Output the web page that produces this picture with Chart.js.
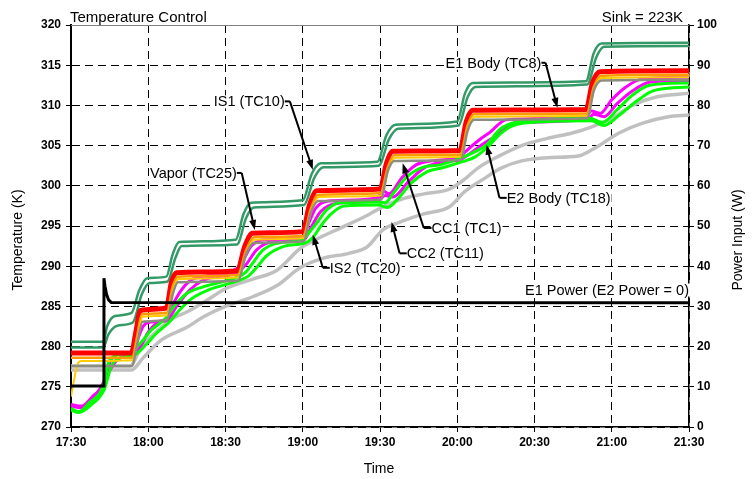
<!DOCTYPE html>
<html>
<head>
<meta charset="utf-8">
<script src="https://cdn.jsdelivr.net/npm/chart.js@4.4.0/dist/chart.umd.min.js"></script>
<style>
  html, body { margin: 0; padding: 0; background: #fff; }
  canvas { display: block; }
</style>
</head>
<body>
<canvas id="chart" width="755" height="479"></canvas>
<script>
// x values are minutes after 17:30
const timeLabels = ['17:30', '18:00', '18:30', '19:00', '19:30', '20:00', '20:30', '21:00', '21:30'];

// Power input (W), right axis
const e1Power = [[0, 10.2], [12.7, 10.2], [12.8, 37], [13.2, 35], [13.8, 33], [14.6, 31.6], [15.6, 31], [240, 30.9]];

// Temperatures (K)
const e1Body = [[0, 279.2], [23.5, 279.2], [25, 281.5], [27, 284.5], [37, 284.8], [39, 288], [41, 289.2], [64.5, 289.4], [67.5, 292.5], [70.5, 294.1], [90, 294.3], [92.5, 297.5], [95.5, 299.4], [120, 299.6], [122.5, 302.8], [125, 304.3], [151, 304.4], [153.5, 308], [156, 309.4], [200, 309.5], [202.5, 312.8], [205.5, 314.2], [240, 314.3]];
const orangeTc = [[0, 278.6], [23.8, 278.6], [25.5, 281], [27.5, 284], [37.2, 284.2], [39.5, 287.5], [41.5, 288.7], [64.7, 288.9], [68, 292], [71, 293.6], [90.2, 293.8], [93, 297], [96, 298.9], [120.2, 299.1], [123, 302.3], [125.5, 303.8], [151.2, 303.9], [154, 307.5], [156.5, 308.9], [200.3, 309], [203, 312.3], [206, 313.7], [240, 313.8]];
const vapor = [[0, 273.8], [1, 275.5], [2.5, 277.8], [4, 278.2], [23.9, 278.3], [25.8, 280.8], [27.8, 283.7], [37.4, 283.9], [39.8, 287.2], [41.8, 288.4], [64.9, 288.6], [68.2, 291.7], [71.2, 293.3], [90.4, 293.5], [93.2, 296.7], [96.2, 298.6], [120.4, 298.8], [123.2, 302], [125.8, 303.5], [151.4, 303.6], [154.2, 307.2], [156.8, 308.6], [200.5, 308.7], [203.2, 312], [206.2, 313.4], [240, 313.5]];
const cc1 = [[0, 277.6], [23.8, 277.6], [25.5, 280], [27.8, 283.1], [37.3, 283.3], [39.5, 286.5], [41.5, 288], [64.8, 288.2], [68, 291.5], [71, 292.9], [90.3, 293.1], [93, 296.5], [96, 298.1], [120.3, 298.3], [123, 301.8], [125.5, 303.1], [151.3, 303.2], [154, 306.8], [156.5, 308.2], [200.5, 308.4], [203, 311.8], [206, 313.1], [240, 313.2]];
const is2 = [[0, 272.6], [4, 272.4], [9, 273.8], [12.5, 275.5], [15, 278], [18, 279], [23.8, 279.3], [26, 281], [28, 282.5], [30, 283], [37, 283.4], [40, 285.5], [44, 287.5], [48, 288.5], [64.5, 289.7], [67, 290.8], [70, 292.5], [75, 293.3], [90, 293.6], [92.5, 295.5], [95, 297.2], [100, 298.1], [119, 298.5], [121, 299.4], [123.5, 299], [128.5, 301], [134, 302.6], [140, 303.1], [151, 303.6], [153, 304.2], [158.5, 305.7], [162.5, 306.6], [169, 308.2], [200, 308.6], [202, 309.3], [205.5, 309], [210, 310.7], [215.5, 312.3], [222, 313.3], [240, 313.5]];
const magentaTc = [[0, 272.8], [4, 272.6], [9, 274], [12.5, 275], [15, 277], [19, 278.6], [24, 279], [27, 280], [30, 281.8], [34, 283], [37.5, 283.3], [41, 285], [46, 287], [51, 288.2], [64.8, 289.3], [68, 290.2], [72, 292], [78, 293], [90.5, 293.3], [93.5, 295], [97, 296.8], [103, 297.8], [119.5, 298.2], [122, 298.8], [125, 298.6], [131, 300.5], [137, 302.2], [143, 302.9], [151.5, 303.3], [154, 303.8], [160, 305.2], [165, 306.2], [172, 307.8], [200.5, 308.2], [203, 308.9], [207, 308.6], [212, 310.2], [218, 311.8], [225, 312.9], [240, 313.1]];
const e2Body = [[0, 272.3], [3, 271.9], [7, 273], [12.4, 275], [15, 278.3], [21.7, 279.2], [24, 279.5], [28, 280.8], [31, 282], [37, 283.6], [40, 285], [45, 286.6], [51, 287.4], [58, 288], [64.4, 288.6], [68, 289.3], [70.6, 290.4], [74.5, 292], [81, 292.9], [90, 293.3], [92.5, 294.2], [95.5, 295.4], [99.3, 297], [104.4, 297.9], [119, 298], [122, 297.9], [125, 299], [130.4, 301.1], [136.6, 302.3], [143.2, 302.6], [150.9, 303.4], [156, 304.1], [161.4, 305.1], [166.5, 307], [173.1, 307.9], [201.4, 308.4], [206.4, 307.9], [211.9, 309.4], [218.1, 311.3], [224.7, 312.5], [240, 312.8]];
const greenTc = [[0, 272.1], [3, 271.8], [8, 272.8], [12.8, 274.6], [16, 277.8], [22, 278.8], [25, 279], [29, 280.2], [33, 281.6], [38, 283], [42, 284.5], [47, 286], [53, 287], [60, 287.7], [65, 288.2], [69, 288.8], [72, 289.8], [76, 291.3], [83, 292.5], [91, 292.9], [94, 293.6], [97, 295], [101, 296.5], [106, 297.5], [119.5, 297.6], [123, 297.3], [127, 298.4], [132, 300.3], [138, 301.7], [145, 302.3], [152, 303], [157, 303.6], [161.4, 304.7], [166.5, 306.4], [171, 307.4], [176, 307.8], [202, 308.1], [207, 307.5], [213, 308.8], [220, 310.6], [226, 311.8], [240, 312.3]];
const is1 = [[0, 280.6], [12.5, 280.6], [14, 282.5], [17, 283.8], [23.5, 284.2], [26.5, 287], [29.5, 288.5], [37, 288.7], [39.5, 291.5], [42, 293], [64, 293.3], [67, 296.5], [70, 297.9], [90, 298.2], [93.5, 301.5], [97, 302.8], [119, 303], [122.5, 306.3], [126, 307.6], [150, 308], [153, 311.5], [156, 312.8], [200, 313], [203, 316.5], [206, 317.7], [240, 317.8]];
const tealTc = [[0, 279.9], [12.5, 279.9], [14.5, 281.5], [18, 282.6], [24, 283], [27.5, 286.5], [30.5, 287.9], [37.5, 288.1], [40.5, 291], [43, 292.5], [64.5, 292.7], [68, 296], [71, 297.3], [90.5, 297.6], [94.5, 301], [98, 302.3], [119.5, 302.5], [123.5, 305.8], [127, 307.1], [150.5, 307.5], [154, 311], [157, 312.3], [200.5, 312.6], [204, 316], [207, 317.3], [240, 317.4]];
const grayTc = [[0, 277.6], [23, 277.6], [27, 279.8], [33, 281.8], [40, 283.6], [45, 284.3], [52, 285.6], [60, 287.2], [70.6, 288.4], [80, 289.5], [89, 292.2], [95, 293.3], [105, 294.8], [115, 296.3], [120, 297.2], [128, 298.3], [137, 299], [147, 299.6], [152, 300.6], [158, 302.2], [165, 303.5], [175, 305], [185, 305.9], [195, 306.6], [202, 307.3], [210, 308.4], [218, 310], [228, 311.1], [240, 311.5]];
const cc2 = [[0, 277.1], [23.5, 277.1], [28, 278.6], [35, 280.8], [45, 282.4], [52, 283.8], [60, 285], [70.6, 286.2], [80, 287.6], [89, 289.8], [98, 291], [108, 291.6], [115, 292.4], [121, 294.5], [127, 295.4], [137, 296.5], [147, 297.4], [153, 299.3], [160, 300.8], [167, 302.2], [175, 303.1], [185, 303.5], [197, 303.7], [203, 304.6], [213, 306.6], [222, 307.8], [232, 308.6], [240, 308.8]];

// callouts: label anchor, elbow and arrow tip in (minutes, K)
const callouts = [
  { text: 'E1 Body (TC8)', at: [182.7, 315.3], align: 'right', elbow: [184.3, 315.3], tip: [188.9, 309.7] },
  { text: 'IS1 (TC10)', at: [83, 310.5], align: 'right', elbow: [85, 310.5], tip: [93.9, 302.0] },
  { text: 'Vapor (TC25)', at: [64.4, 301.6], align: 'right', elbow: [66.3, 301.6], tip: [71.4, 294.5] },
  { text: 'IS2 (TC20)', at: [100.5, 289.8], align: 'left', elbow: [97.8, 289.8], tip: [93.9, 293.9] },
  { text: 'CC1 (TC1)', at: [140, 294.75], align: 'left', elbow: [137, 294.75], tip: [128.8, 302.8] },
  { text: 'CC2 (TC11)', at: [130.4, 291.6], align: 'left', elbow: [127.6, 291.6], tip: [124.5, 295.5] },
  { text: 'E2 Body (TC18)', at: [169.2, 298.5], align: 'left', elbow: [166.4, 298.5], tip: [161.4, 305.1] },
  { text: 'E1 Power (E2 Power = 0)', at: [240, 287.1], align: 'right' }
];

function pts(arr) {
  return arr.map(p => ({ x: p[0], y: p[1] }));
}

function trace(data, color, width) {
  return {
    data: pts(data),
    borderColor: color,
    borderWidth: width,
    pointRadius: 0,
    fill: false,
    cubicInterpolationMode: 'monotone',
    yAxisID: 'y'
  };
}

const FONT = "'Liberation Sans', Arial, sans-serif";
Chart.defaults.font.family = FONT;
Chart.defaults.color = '#000';

function drawArrow(ctx, x1, y1, x2, y2) {
  const a = Math.atan2(y2 - y1, x2 - x1);
  ctx.beginPath();
  ctx.moveTo(x1, y1);
  ctx.lineTo(x2 - 6 * Math.cos(a), y2 - 6 * Math.sin(a));
  ctx.stroke();
  ctx.beginPath();
  ctx.moveTo(x2, y2);
  ctx.lineTo(x2 - 10 * Math.cos(a) + 3.5 * Math.sin(a), y2 - 10 * Math.sin(a) - 3.5 * Math.cos(a));
  ctx.lineTo(x2 - 10 * Math.cos(a) - 3.5 * Math.sin(a), y2 - 10 * Math.sin(a) + 3.5 * Math.cos(a));
  ctx.closePath();
  ctx.fill();
}

const labelsPlugin = {
  id: 'labels',
  afterDatasetsDraw(chart) {
    const { ctx, chartArea, scales } = chart;
    const sx = v => scales.x.getPixelForValue(v);
    const sy = v => scales.y.getPixelForValue(v);
    ctx.save();
    // top border
    ctx.strokeStyle = '#808080';
    ctx.lineWidth = 1;
    ctx.beginPath();
    ctx.moveTo(chartArea.left, chartArea.top + 0.5);
    ctx.lineTo(chartArea.right, chartArea.top + 0.5);
    ctx.stroke();

    ctx.font = '14.5px ' + FONT;
    ctx.textBaseline = 'middle';
    callouts.forEach(c => {
      const x = sx(c.at[0]), y = sy(c.at[1]);
      const w = ctx.measureText(c.text).width;
      const left = c.align === 'right' ? x - w : x;
      ctx.fillStyle = '#fff';
      ctx.fillRect(left - 1, y - 6, w + 2, 13);
      ctx.fillStyle = '#000';
      ctx.textAlign = 'left';
      ctx.fillText(c.text, left, y + 1);
      if (c.tip) {
        ctx.strokeStyle = '#000';
        ctx.lineWidth = 2;
        const ex = sx(c.elbow[0]), ey = sy(c.elbow[1]);
        ctx.beginPath();
        ctx.moveTo(x, y);
        ctx.lineTo(ex, ey);
        ctx.stroke();
        drawArrow(ctx, ex, ey, sx(c.tip[0]), sy(c.tip[1]));
      }
    });

    // titles
    ctx.fillStyle = '#000';
    ctx.font = '15px ' + FONT;
    ctx.textBaseline = 'alphabetic';
    ctx.textAlign = 'left';
    ctx.fillText('Temperature Control', chartArea.left - 1, chartArea.top - 3);
    ctx.textAlign = 'right';
    ctx.fillText('Sink = 223K', chartArea.right - 6, chartArea.top - 3);
    ctx.font = '14px ' + FONT;
    ctx.textAlign = 'center';
    ctx.textBaseline = 'middle';
    ctx.fillText('Time', (chartArea.left + chartArea.right) / 2 - 1, 469);
    ctx.save();
    ctx.translate(18, 240);
    ctx.rotate(-Math.PI / 2);
    ctx.fillText('Temperature (K)', 0, 0);
    ctx.restore();
    ctx.save();
    ctx.translate(738, 240);
    ctx.rotate(-Math.PI / 2);
    ctx.fillText('Power Input (W)', 0, 0);
    ctx.restore();
    ctx.restore();
  }
};

const tickFont = { size: 12, weight: 'bold' };

new Chart(document.getElementById('chart'), {
  type: 'line',
  data: {
    datasets: [
      {
        data: pts(e1Power),
        borderColor: '#000',
        borderWidth: 3,
        pointRadius: 0,
        fill: false,
        tension: 0,
        yAxisID: 'y2'
      },
      trace(cc1, '#8C8C80', 2.5),
      trace(vapor, '#FFCC00', 2),
      trace(orangeTc, '#FF9900', 2.5),
      trace(e1Body, '#FF0000', 5),
      trace(e2Body, '#00FF00', 3),
      trace(is2, '#FF00FF', 3),
      trace(greenTc, '#00FF00', 3),
      trace(magentaTc, '#FF00FF', 3),
      trace(is1, '#339966', 2.5),
      trace(tealTc, '#339966', 2.5),
      trace(grayTc, '#C0C0C0', 3.5),
      trace(cc2, '#C0C0C0', 3.5)
    ]
  },
  options: {
    responsive: false,
    animation: false,
    devicePixelRatio: 1,
    layout: { padding: { top: 25, left: 0, right: 0, bottom: 0 } },
    plugins: { legend: { display: false }, tooltip: { enabled: false } },
    scales: {
      x: {
        type: 'linear',
        min: 0,
        max: 240,
        afterFit: s => { s.height = 52; },
        ticks: {
          stepSize: 30,
          font: tickFont,
          padding: 3,
          maxRotation: 0,
          callback: v => timeLabels[Math.round(v / 30)]
        },
        grid: { color: '#000', lineWidth: 1, tickLength: 5, tickColor: '#000', tickBorderDash: [] },
        border: { display: true, color: '#000', width: 1.5, dash: c => (c.tick ? [8, 5] : []) }
      },
      y: {
        position: 'left',
        min: 270,
        max: 320,
        afterFit: s => { s.width = 71; },
        ticks: { stepSize: 5, font: tickFont, padding: 5 },
        grid: {
          color: c => (c.tick && c.tick.value === 320 ? 'rgba(0,0,0,0)' : '#000'),
          lineWidth: 1,
          tickLength: 5,
          tickColor: '#000',
          tickBorderDash: []
        },
        border: { display: true, color: '#000', width: 2, dash: c => (c.tick ? [8, 5] : []) }
      },
      y2: {
        position: 'right',
        min: 0,
        max: 100,
        afterFit: s => { s.width = 66; },
        ticks: { stepSize: 10, font: tickFont, padding: 3 },
        grid: { drawOnChartArea: false, tickLength: 5, tickColor: '#000', tickBorderDash: [] },
        border: { display: true, color: '#000', width: 1.5 }
      }
    }
  },
  plugins: [labelsPlugin]
});
</script>
</body>
</html>
